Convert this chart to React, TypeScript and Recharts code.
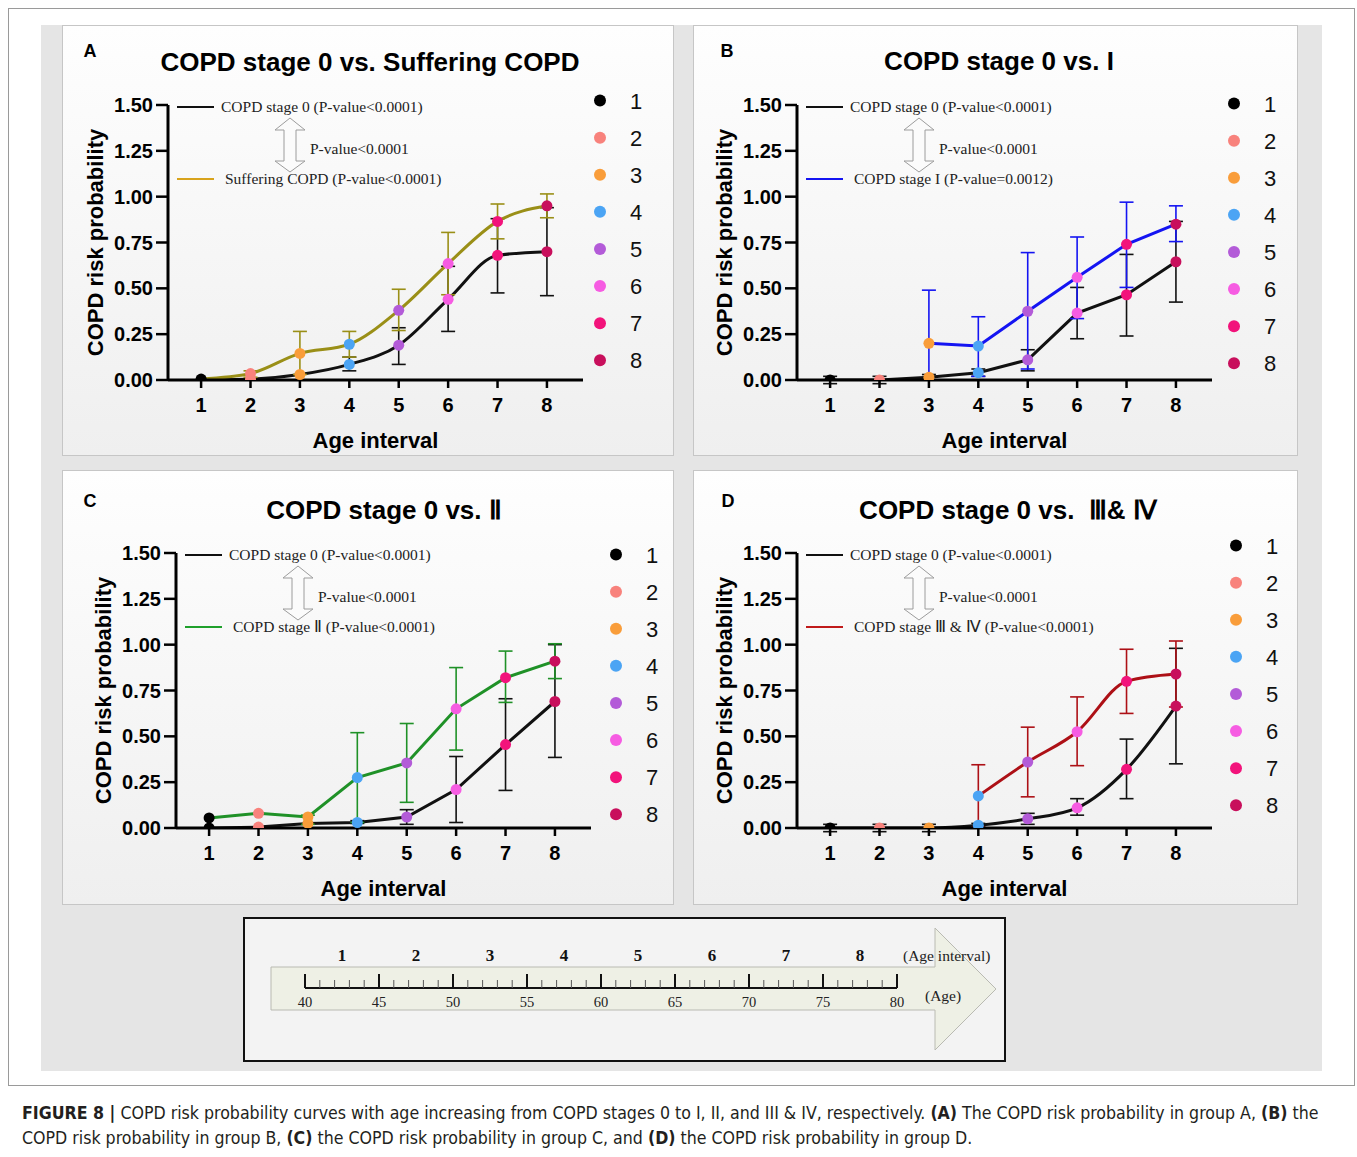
import React from 'react';
import { LineChart, Line, XAxis, YAxis, ErrorBar, Legend } from 'recharts';

const SANS = '"Liberation Sans", Arial, Helvetica, sans-serif';
const SERIF = '"Liberation Serif", "Times New Roman", serif';

// age intervals and their marker colours
const intervals = [1, 2, 3, 4, 5, 6, 7, 8];
const intervalColors = ['#000000', '#f8827c', '#f99d3a', '#4ba4f4', '#b35bd8', '#f65ce2', '#f2137b', '#c80f5c'];
const yTicks = [0, 0.25, 0.5, 0.75, 1, 1.25, 1.5];

// A: stage 0 vs suffering COPD
const aStage0 = [0, 0.005, 0.03, 0.085, 0.19, 0.44, 0.68, 0.7];
const aStage0Low = [null, null, null, 0.05, 0.085, 0.265, 0.475, 0.46];
const aStage0High = [null, null, null, 0.125, 0.285, 0.62, 0.88, 0.94];
const aSuffering = [0.005, 0.035, 0.145, 0.195, 0.38, 0.635, 0.865, 0.95];
const aSufferingLow = [null, 0.015, 0.03, 0.125, 0.27, 0.465, 0.77, 0.885];
const aSufferingHigh = [null, 0.05, 0.265, 0.265, 0.495, 0.805, 0.96, 1.015];

// B: stage 0 vs I
const bStage0 = [0, 0, 0.015, 0.04, 0.11, 0.365, 0.465, 0.645];
const bStage0Low = [-0.02, -0.02, 0, 0.02, 0.05, 0.225, 0.24, 0.425];
const bStage0High = [0.02, 0.02, 0.03, 0.06, 0.165, 0.505, 0.685, 0.865];
const bStage1 = [null, null, 0.2, 0.185, 0.375, 0.56, 0.74, 0.85];
const bStage1Low = [null, null, 0, 0.02, 0.06, 0.335, 0.505, 0.755];
const bStage1High = [null, null, 0.49, 0.345, 0.695, 0.78, 0.97, 0.95];

// C: stage 0 vs II
const cStage0 = [0, 0.005, 0.025, 0.03, 0.06, 0.21, 0.455, 0.69];
const cStage0Low = [null, null, null, 0.025, 0.02, 0.03, 0.205, 0.385];
const cStage0High = [null, null, null, 0.04, 0.1, 0.39, 0.705, 1.0];
const cStage2 = [0.055, 0.08, 0.06, 0.275, 0.355, 0.65, 0.82, 0.91];
const cStage2Low = [null, null, 0.02, 0.03, 0.14, 0.425, 0.685, 0.815];
const cStage2High = [null, null, 0.07, 0.52, 0.57, 0.875, 0.965, 1.005];

// D: stage 0 vs III & IV
const dStage0 = [0, 0, 0, 0.015, 0.05, 0.11, 0.32, 0.665];
const dStage0Low = [-0.02, -0.02, -0.02, 0.005, 0.02, 0.07, 0.16, 0.35];
const dStage0High = [0.02, 0.02, 0.02, 0.025, 0.08, 0.16, 0.485, 0.98];
const dStage34 = [null, null, null, 0.175, 0.36, 0.525, 0.8, 0.84];
const dStage34Low = [null, null, null, 0.005, 0.17, 0.34, 0.625, 0.66];
const dStage34High = [null, null, null, 0.345, 0.55, 0.715, 0.975, 1.02];

// age ruler
const ages = [40, 41, 42, 43, 44, 45, 46, 47, 48, 49, 50, 51, 52, 53, 54, 55, 56, 57, 58, 59, 60,
  61, 62, 63, 64, 65, 66, 67, 68, 69, 70, 71, 72, 73, 74, 75, 76, 77, 78, 79, 80];
const ageMajor = [40, 45, 50, 55, 60, 65, 70, 75, 80];
const intervalLabels = ['1', '2', '3', '4', '5', '6', '7', '8'];

type Row = { x: number; y: number; err: [number, number] | null };

function buildRows(vals: (number | null)[], low: (number | null)[], high: (number | null)[]): Row[] {
  const rows: Row[] = [];
  intervals.forEach((x, i) => {
    const v = vals[i];
    if (v == null) return;
    const lo = low[i];
    const hi = high[i];
    rows.push({ x, y: v, err: lo == null || hi == null ? null : [v - lo, hi - v] });
  });
  return rows;
}

const PLOT_W = 415;
const PLOT_H = 275;
const Y_AXIS_W = 78;
const X_AXIS_H = 70;
const LEGEND_ROW = 37.1;

const renderDot = (props: any) => {
  const { cx, cy, payload, index } = props;
  if (cx == null || cy == null) return <g key={'e' + index} />;
  return <circle key={'d' + index} cx={cx} cy={cy} r={5.5} fill={intervalColors[payload.x - 1]} />;
};

const IntervalLegend = () => (
  <svg width={70} height={LEGEND_ROW * 8} style={{ display: 'block' }}>
    {intervals.map((n, i) => (
      <g key={n}>
        <circle cx={8} cy={LEGEND_ROW / 2 + i * LEGEND_ROW} r={6} fill={intervalColors[i]} />
        <text x={44} y={LEGEND_ROW / 2 + i * LEGEND_ROW + 8} textAnchor="middle" fontSize={22} fontFamily={SANS} fill="#111">
          {n}
        </text>
      </g>
    ))}
  </svg>
);

const Annotation = ({ color, label }: { color: string; label: string }) => {
  const cx = 121;
  const o = 20;
  const arrow = [
    [cx, o + 12], [cx + 15, o + 24], [cx + 6, o + 24], [cx + 6, o + 55], [cx + 15, o + 55],
    [cx, o + 66], [cx - 15, o + 55], [cx - 6, o + 55], [cx - 6, o + 24], [cx - 15, o + 24],
  ].map((p) => p.join(',')).join(' ');
  return (
    <svg width={420} height={110} style={{ position: 'absolute', left: 0, top: -o, overflow: 'visible' }}>
      <line x1={8} x2={45} y1={o + 1} y2={o + 1} stroke="#111" strokeWidth={2} />
      <text x={52} y={o + 6} fontSize={15.5} fontFamily={SERIF} fill="#222">COPD stage 0 (P-value&lt;0.0001)</text>
      <polygon points={arrow} fill="#fbfbfb" stroke="#9c9c9c" strokeWidth={1} />
      <text x={141} y={o + 48} fontSize={15.5} fontFamily={SERIF} fill="#222">P-value&lt;0.0001</text>
      <line x1={8} x2={45} y1={o + 73} y2={o + 73} stroke={color} strokeWidth={2} />
      <text x={56} y={o + 78} fontSize={15.5} fontFamily={SERIF} fill="#222">{label}</text>
    </svg>
  );
};

type PanelProps = {
  letter: string;
  title: string;
  left: number;
  top: number;
  width: number;
  height: number;
  plotLeft: number;
  plotTop: number;
  titleX: number;
  titleY: number;
  letterX: number;
  letterY: number;
  legendX: number;
  legendY: number;
  stage0: Row[];
  other: Row[];
  lineColor: string;
  keyColor: string;
  otherLabel: string;
  curve: 'linear' | 'monotone';
};

const Panel = (p: PanelProps) => {
  const margin = {
    top: p.plotTop,
    left: p.plotLeft - Y_AXIS_W,
    right: p.width - p.plotLeft - PLOT_W,
    bottom: p.height - p.plotTop - PLOT_H - X_AXIS_H,
  };
  return (
    <div
      style={{
        position: 'absolute', left: p.left, top: p.top, width: p.width, height: p.height,
        boxSizing: 'border-box', border: '1px solid #c6c6c6',
        background: 'linear-gradient(#fefefe, #efefef)',
      }}
    >
      <div style={{ position: 'absolute', left: p.letterX - 10, top: p.letterY - 11, width: 20, textAlign: 'center', fontFamily: SANS, fontWeight: 700, fontSize: 18, lineHeight: '22px', color: '#000' }}>
        {p.letter}
      </div>
      <div style={{ position: 'absolute', left: p.titleX - 300, top: p.titleY - 16, width: 600, textAlign: 'center', fontFamily: SANS, fontWeight: 700, fontSize: 26, lineHeight: '32px', color: '#000', whiteSpace: 'pre' }}>
        {p.title}
      </div>
      <div style={{ position: 'absolute', left: -1, top: -1 }}>
        <LineChart width={p.width} height={p.height} margin={margin}>
          <XAxis
            dataKey="x"
            type="number"
            domain={[0.33, 8.73]}
            allowDataOverflow
            ticks={intervals}
            interval={0}
            height={X_AXIS_H}
            axisLine={{ stroke: '#000', strokeWidth: 3 }}
            tickLine={{ stroke: '#000', strokeWidth: 2.5 }}
            tickSize={8}
            tickMargin={10}
            tick={{ fill: '#000', fontSize: 20, fontWeight: 700, fontFamily: SANS }}
            label={{ value: 'Age interval', position: 'insideBottom', offset: 2, fill: '#000', fontSize: 22, fontWeight: 700, fontFamily: SANS }}
          />
          <YAxis
            type="number"
            domain={[0, 1.5]}
            allowDataOverflow
            ticks={yTicks}
            interval={0}
            width={Y_AXIS_W}
            tickFormatter={(v: number) => v.toFixed(2)}
            axisLine={{ stroke: '#000', strokeWidth: 3 }}
            tickLine={{ stroke: '#000', strokeWidth: 2.5 }}
            tickSize={12}
            tickMargin={3}
            tick={{ fill: '#000', fontSize: 20, fontWeight: 700, fontFamily: SANS }}
            label={{ value: 'COPD risk probability', angle: -90, position: 'insideLeft', offset: 5, fill: '#000', fontSize: 22, fontWeight: 700, fontFamily: SANS, style: { textAnchor: 'middle' } }}
          />
          <Legend
            layout="vertical"
            align="center"
            verticalAlign="middle"
            wrapperStyle={{ left: p.legendX - 8, top: p.legendY - LEGEND_ROW / 2, width: 70, height: LEGEND_ROW * 8 }}
            content={() => <IntervalLegend />}
          />
          <Line
            data={p.stage0}
            dataKey="y"
            type={p.curve}
            stroke="#111"
            strokeWidth={3}
            dot={renderDot}
            activeDot={false}
            isAnimationActive={false}
          >
            <ErrorBar dataKey="err" direction="y" width={7} stroke="#111" strokeWidth={1.6} />
          </Line>
          <Line
            data={p.other}
            dataKey="y"
            type={p.curve}
            stroke={p.lineColor}
            strokeWidth={3}
            dot={renderDot}
            activeDot={false}
            isAnimationActive={false}
          >
            <ErrorBar dataKey="err" direction="y" width={7} stroke={p.lineColor} strokeWidth={1.6} />
          </Line>
        </LineChart>
      </div>
      <div style={{ position: 'absolute', left: p.plotLeft, top: p.plotTop, pointerEvents: 'none' }}>
        <Annotation color={p.keyColor} label={p.otherLabel} />
      </div>
    </div>
  );
};

const RulerTick = (props: any) => {
  const { x, y, payload } = props;
  const major = payload.value % 5 === 0;
  return (
    <g>
      <line x1={x} x2={x} y1={y} y2={y - (major ? 14 : 8)} stroke={major ? '#111' : '#555'} strokeWidth={major ? 2 : 1} />
      {major && (
        <text x={x} y={y + 19} textAnchor="middle" fontSize={14.5} fontFamily={SERIF} fill="#222">
          {payload.value}
        </text>
      )}
    </g>
  );
};

const intervalMid = ageMajor.slice(0, -1).map((a, i) => (a + ageMajor[i + 1]) / 2);
const ruleData = ages.map((age) => ({ age }));

const AgeRuler = () => {
  const arrowPts = [[28, 50], [692, 50], [692, 11], [753, 72], [692, 133], [692, 93], [28, 93]]
    .map((q) => q.join(',')).join(' ');
  return (
    <div style={{ position: 'absolute', left: 243, top: 917, width: 763, height: 145, boxSizing: 'border-box', border: '2px solid #111', background: '#f3f3f3' }}>
      <svg width={763} height={145} style={{ position: 'absolute', left: -2, top: -2 }}>
        <polygon points={arrowPts} fill="#eef0e5" stroke="#b9bab2" strokeWidth={1} />
      </svg>
      <div style={{ position: 'absolute', left: -2, top: -2 }}>
        <LineChart width={763} height={145} data={ruleData} margin={{ top: 19, left: 62, right: 109, bottom: 44 }}>
          <YAxis hide domain={[0, 1]} />
          <XAxis
            dataKey="age"
            type="number"
            domain={[40, 80]}
            allowDataOverflow
            ticks={ages}
            interval={0}
            height={30}
            tickLine={false}
            tickSize={0}
            tickMargin={0}
            axisLine={{ stroke: '#111', strokeWidth: 2 }}
            tick={<RulerTick />}
          />
          <XAxis
            xAxisId="interval"
            orientation="top"
            dataKey="age"
            type="number"
            domain={[40, 80]}
            allowDataOverflow
            ticks={intervalMid}
            interval={0}
            height={30}
            axisLine={false}
            tickLine={false}
            tickSize={0}
            tickMargin={5}
            tickFormatter={(v: number) => intervalLabels[intervalMid.indexOf(v)]}
            tick={{ fill: '#111', fontSize: 17, fontWeight: 700, fontFamily: SERIF }}
          />
        </LineChart>
      </div>
      <svg width={763} height={145} style={{ position: 'absolute', left: -2, top: -2, pointerEvents: 'none' }}>
        <text x={660} y={44} fontSize={15.5} fontFamily={SERIF} fill="#222">(Age interval)</text>
        <text x={682} y={84} fontSize={15.5} fontFamily={SERIF} fill="#222">(Age)</text>
      </svg>
    </div>
  );
};

export default function App() {
  return (
    <div style={{ position: 'fixed', left: 0, top: 0, width: 1357, height: 1157, background: '#fff', overflow: 'hidden', fontFamily: SANS }}>
      <div style={{ position: 'absolute', left: 8, top: 8, width: 1347, height: 1078, boxSizing: 'border-box', border: '1px solid #9a9a9a' }} />
      <div style={{ position: 'absolute', left: 41, top: 25, width: 1281, height: 1046, background: '#e5e5e5' }} />
      <Panel
        letter="A" title="COPD stage 0 vs. Suffering COPD"
        left={62} top={25} width={612} height={431} plotLeft={106} plotTop={80}
        titleX={307} titleY={36} letterX={27} letterY={25} legendX={538} legendY={76}
        stage0={buildRows(aStage0, aStage0Low, aStage0High)}
        other={buildRows(aSuffering, aSufferingLow, aSufferingHigh)}
        lineColor="#9a8f17" keyColor="#d8a31c" otherLabel="Suffering COPD (P-value<0.0001)" curve="monotone"
      />
      <Panel
        letter="B" title="COPD stage 0 vs. I"
        left={693} top={25} width={605} height={431} plotLeft={104} plotTop={80}
        titleX={305} titleY={35} letterX={33} letterY={25} legendX={541} legendY={79}
        stage0={buildRows(bStage0, bStage0Low, bStage0High)}
        other={buildRows(bStage1, bStage1Low, bStage1High)}
        lineColor="#1414f2" keyColor="#1414f2" otherLabel="COPD stage I (P-value=0.0012)" curve="linear"
      />
      <Panel
        letter="C" title="COPD stage 0 vs. Ⅱ"
        left={62} top={470} width={612} height={435} plotLeft={114} plotTop={83}
        titleX={321} titleY={39} letterX={27} letterY={30} legendX={554} legendY={85}
        stage0={buildRows(cStage0, cStage0Low, cStage0High)}
        other={buildRows(cStage2, cStage2Low, cStage2High)}
        lineColor="#1f9127" keyColor="#1fa02c" otherLabel="COPD stage Ⅱ (P-value<0.0001)" curve="linear"
      />
      <Panel
        letter="D" title="COPD stage 0 vs.  Ⅲ& Ⅳ"
        left={693} top={470} width={605} height={435} plotLeft={104} plotTop={83}
        titleX={314} titleY={39} letterX={34} letterY={30} legendX={543} legendY={76}
        stage0={buildRows(dStage0, dStage0Low, dStage0High)}
        other={buildRows(dStage34, dStage34Low, dStage34High)}
        lineColor="#ad1016" keyColor="#c01a1a" otherLabel="COPD stage Ⅲ & Ⅳ (P-value<0.0001)"
        curve="monotone"
      />
      <AgeRuler />
      <div style={{ position: 'absolute', left: 22, top: 1101, fontFamily: '"DejaVu Sans Condensed", "Liberation Sans", Arial, sans-serif', fontSize: 17.6, lineHeight: '25px', color: '#231f20', whiteSpace: 'nowrap' }}>
        <div>
          <b>FIGURE 8 |</b> COPD risk probability curves with age increasing from COPD stages 0 to I, II, and III &amp; IV, respectively. <b>(A)</b> The COPD risk probability in group A, <b>(B)</b> the
        </div>
        <div>
          COPD risk probability in group B, <b>(C)</b> the COPD risk probability in group C, and <b>(D)</b> the COPD risk probability in group D.
        </div>
      </div>
    </div>
  );
}
